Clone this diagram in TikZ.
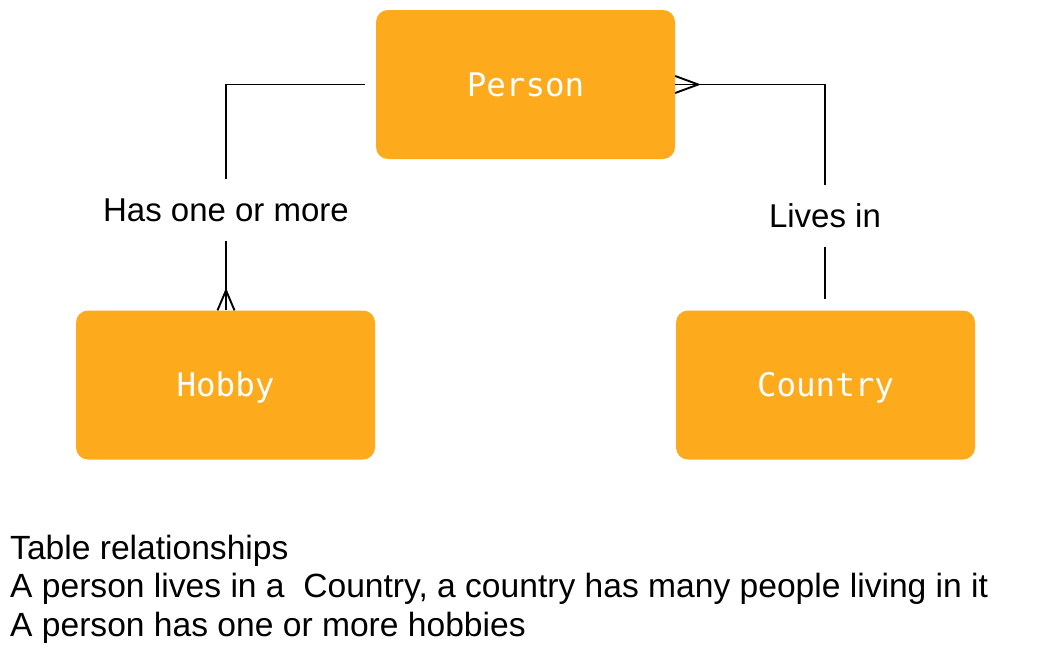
\documentclass[tikz,border=0pt]{standalone}
\usepackage{fontspec}
\setmainfont{Liberation Sans}
\newfontfamily\boxmono{DejaVu Sans Mono}
\usetikzlibrary{calc}
\definecolor{entityorange}{RGB}{253,170,29}
\tikzset{
  entity/.style={fill=entityorange, draw=none, rounded corners=12pt,
    minimum width=299pt, minimum height=149pt, inner sep=0pt,
    font=\boxmono\fontsize{32.5}{38}\selectfont, text=white,
    text height=23.7pt, text depth=0pt},
  rel/.style={font=\fontsize{33}{38}\selectfont, text height=23.6pt, text depth=0pt,
    inner xsep=2pt, inner ysep=19pt},
  conn/.style={line width=1.9pt, black},
  note/.style={font=\fontsize{33.6}{38}\selectfont, anchor=base west, inner sep=0pt}
}
\begin{document}
\begin{tikzpicture}[x=1pt,y=-1pt]
\useasboundingbox (0,0) rectangle (1049,654);
\node[entity] (person) at (525.5,84.5) {Person};
\node[entity] (hobby) at (225.5,385) {Hobby};
\node[entity] (country) at (825.5,385) {Country};

\node[rel, anchor=base] (has) at (226,221.7) {Has one or more};
\node[rel, anchor=base] (lives) at (825,227.7) {Lives in};

% Person -- Hobby
\coordinate (hobbytop) at (has.south |- hobby.north);
\draw[conn] ($(person.west)+(-11,0)$) -| (has.north);
\draw[conn] (has.south) -- (hobbytop);
\coordinate (hobbyfoot) at ($(hobbytop)+(0,-20)$);
\draw[conn] ($(hobbytop)+(-8.5,0)$) -- (hobbyfoot) -- ($(hobbytop)+(8.5,0)$);

% Person -- Country
\coordinate (countrytop) at (lives.south |- country.north);
\draw[conn] (person.east) -| (lives.north);
\draw[conn] (lives.south) -- ($(countrytop)+(0,-11)$);
\coordinate (personfoot) at ($(person.east)+(23,0)$);
\draw[conn] ($(person.east)+(0,-8.5)$) -- (personfoot) -- ($(person.east)+(0,8.5)$);

% Notes
\node[note] (n1) at (10,559.5) {Table relationships};
\node[note] (n2) at (10,597.5) {A person lives in a\ \ Country, a country has many people living in it};
\node[note] (n3) at (10,636) {A person has one or more hobbies};
\end{tikzpicture}
\end{document}
